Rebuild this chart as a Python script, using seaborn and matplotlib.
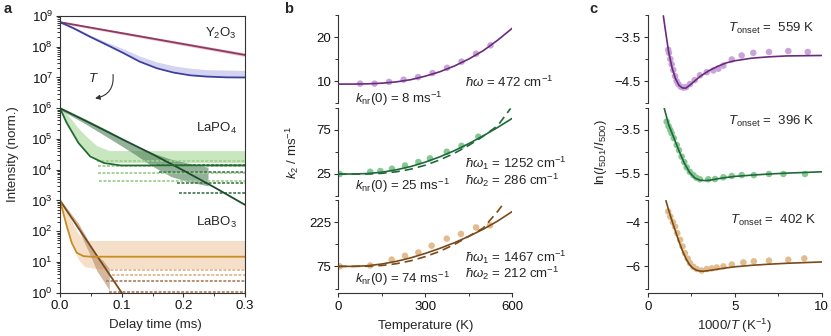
import numpy as np
import pandas as pd
import matplotlib
matplotlib.use("Agg")
import matplotlib.pyplot as plt
import seaborn as sns
from matplotlib.ticker import FixedLocator, LogLocator, NullFormatter, FuncFormatter

# ---------------- panel a: luminescence decays ----------------
# fitted decay curves (delay time in ms, normalised intensity)
y2o3_slow_t = [0.0, 0.3]
y2o3_slow_I = [6.3e8, 5.4e7]
y2o3_fast_t = [0.0, 0.022, 0.049, 0.076, 0.103, 0.129, 0.157, 0.184, 0.211, 0.238, 0.27, 0.3]
y2o3_fast_I = [6.3e8, 4.0e8, 2.1e8, 1.15e8, 6.2e7, 3.3e7, 2.0e7, 1.45e7, 1.18e7, 1.07e7, 1.01e7, 1.0e7]
lapo4_slow_t = [0.0, 0.05, 0.1, 0.15, 0.2, 0.25, 0.3]
lapo4_slow_I = [1.0e6, 3.2e5, 1.0e5, 3.2e4, 9.5e3, 2.7e3, 7.2e2]
lapo4_fast_t = [0.0, 0.011, 0.03, 0.049, 0.071, 0.098, 0.3]
lapo4_fast_I = [1.0e6, 3.3e5, 7.4e4, 2.7e4, 1.66e4, 1.38e4, 1.38e4]
labo3_slow_t = [0.0, 0.1]
labo3_slow_I = [1.0e3, 1.0]
labo3_fast_t = [0.0, 0.011, 0.019, 0.027, 0.038, 0.05, 0.3]
labo3_fast_I = [1.0e3, 1.45e2, 42.0, 20.0, 15.5, 14.8, 14.8]

# spread of the measured counts around each decay (lower / upper envelope)
y2o3_slow_band_t = [0.0, 0.3]
y2o3_slow_band_lo = [5.8e8, 4.8e7]
y2o3_slow_band_hi = [6.8e8, 6.3e7]
y2o3_fast_band_t = y2o3_fast_t
y2o3_fast_band_lo = [6.0e8, 3.8e8, 2.0e8, 1.15e8, 6.5e7, 3.6e7, 2.2e7, 1.6e7, 1.3e7, 1.15e7, 1.08e7, 1.05e7]
y2o3_fast_band_hi = [6.8e8, 4.4e8, 2.4e8, 1.4e8, 8.5e7, 5.0e7, 3.2e7, 2.4e7, 2.0e7, 1.8e7, 1.75e7, 1.7e7]
lapo4_slow_band_t = [0.0, 0.04, 0.08, 0.12, 0.15, 0.18, 0.21, 0.24]
lapo4_slow_band_lo = [9.0e5, 3.2e5, 1.05e5, 3.3e4, 1.3e4, 6.0e3, 4.0e3, 3.0e3]
lapo4_slow_band_hi = [1.1e6, 4.6e5, 1.8e5, 6.5e4, 3.5e4, 2.2e4, 1.6e4, 1.2e4]
lapo4_fast_band_t = [0.0, 0.01, 0.02, 0.03, 0.045, 0.06, 0.08, 0.3]
lapo4_fast_band_lo = [9.5e5, 3.5e5, 1.5e5, 7.0e4, 3.5e4, 2.2e4, 1.7e4, 1.7e4]
lapo4_fast_band_hi = [1.05e6, 7.0e5, 4.0e5, 2.2e5, 1.1e5, 6.0e4, 4.2e4, 4.2e4]
labo3_slow_band_t = [0.0, 0.03, 0.05, 0.06, 0.07, 0.08]
labo3_slow_band_lo = [9.0e2, 1.1e2, 15.0, 5.0, 2.5, 1.2]
labo3_slow_band_hi = [1.1e3, 1.8e2, 35.0, 16.0, 11.0, 6.0]
labo3_fast_band_t = [0.0, 0.01, 0.02, 0.03, 0.04, 0.06, 0.3]
labo3_fast_band_lo = [9.0e2, 1.3e2, 35.0, 12.0, 7.0, 6.0, 6.0]
labo3_fast_band_hi = [1.0e3, 5.0e2, 2.0e2, 80.0, 50.0, 50.0, 50.0]

# discrete count levels in the tails (level, first delay time)
lapo4_fast_levels = [1.86e4, 1.29e4, 7.8e3, 4.2e3]
lapo4_fast_level_start = [0.06, 0.061, 0.062, 0.064]
lapo4_slow_levels = [1.45e4, 8.7e3, 3.7e3, 1.75e3]
lapo4_slow_level_start = [0.157, 0.16, 0.19, 0.193]
labo3_fast_levels = [5.6, 3.9]
labo3_fast_level_start = [0.06, 0.07]
labo3_slow_levels = [2.35, 1.05]
labo3_slow_level_start = [0.075, 0.08]

# ---------------- panel b: k2 versus temperature ----------------
b_y_T = [75, 125, 175, 225, 275, 325, 375, 425, 475, 525]
b_y_k = [9.4, 9.4, 9.8, 10.3, 10.9, 11.8, 13.0, 14.4, 16.2, 18.1]
b_y_fitT = [0, 50, 100, 150, 200, 250, 300, 350, 400, 450, 500, 550, 600]
b_y_fit = [9.3, 9.3, 9.35, 9.5, 9.8, 10.3, 11.1, 12.1, 13.4, 15.0, 16.9, 19.3, 22.0]

b_p_T = [5, 110, 145, 185, 230, 276, 316, 374, 425, 483]
b_p_k = [25.0, 27.6, 28.4, 31.0, 34.6, 38.6, 42.8, 50.3, 57.0, 67.4]
b_p_fitT = [0, 50, 100, 150, 200, 250, 300, 350, 400, 450, 500, 550, 600]
b_p_fit = [25.0, 25.0, 25.5, 27.0, 29.8, 33.5, 38.5, 44.5, 51.5, 59.5, 68.5, 78.0, 88.3]
b_p_fit2T = [0, 50, 100, 150, 200, 250, 300, 350, 400, 450, 500, 550, 594]
b_p_fit2 = [25.0, 25.0, 25.0, 25.8, 27.5, 30.5, 35.0, 41.0, 48.5, 57.5, 68.0, 80.0, 99.5]

b_b_T = [5, 110, 184, 230, 276, 322, 374, 423, 475, 523]
b_b_k = [75, 78, 98, 111, 122, 145, 169, 185, 207, 214]
b_b_fitT = [0, 50, 100, 150, 200, 250, 300, 350, 400, 450, 500, 550, 600]
b_b_fit = [75, 75, 77, 83, 92, 104, 119, 136, 155, 177, 201, 229, 261]
b_b_fit2T = [0, 50, 100, 150, 200, 250, 300, 350, 400, 450, 500, 550, 569]
b_b_fit2 = [75, 75, 75.5, 78, 84, 94, 108, 126, 149, 177, 205, 262, 287]

# ---------------- panel c: ln(I5D1/I5D0) versus 1000/T ----------------
c_y_x = [1.18, 1.22, 1.3, 1.38, 1.47, 1.57, 1.66, 1.76, 1.9, 2.05, 2.2, 2.43, 2.7, 3.0, 3.39, 3.77, 4.06,
         4.35, 4.83, 5.4, 6.07, 6.97, 8.08, 9.2]
c_y_v = [-3.79, -3.86, -4.0, -4.12, -4.25, -4.39, -4.5, -4.57, -4.63, -4.65, -4.64, -4.57, -4.48, -4.37,
         -4.30, -4.26, -4.22, -4.15, -4.01, -3.92, -3.86, -3.84, -3.82, -3.84]
c_y_fx = [0.9, 1.0, 1.2, 1.4, 1.6, 1.8, 2.0, 2.2, 2.4, 2.7, 3.0, 3.5, 4.0, 4.5, 5.0, 6.0, 7.0, 8.0, 9.0, 10.0]
c_y_f = [-3.02, -3.3, -3.83, -4.2, -4.45, -4.6, -4.66, -4.66, -4.6, -4.5, -4.4, -4.27, -4.17, -4.09,
         -4.04, -3.98, -3.95, -3.93, -3.925, -3.92]

c_p_x = [1.09, 1.2, 1.3, 1.38, 1.5, 1.67, 1.8, 1.95, 2.1, 2.24, 2.42, 2.62, 2.8, 3.0, 3.48, 3.87, 4.35,
         4.83, 5.4, 6.1, 6.97, 7.8, 9.04]
c_p_v = [-3.12, -3.33, -3.5, -3.65, -3.87, -4.18, -4.42, -4.71, -4.96, -5.2, -5.4, -5.55, -5.67, -5.74,
         -5.74, -5.73, -5.65, -5.59, -5.55, -5.55, -5.5, -5.5, -5.5]
c_p_fx = [0.95, 1.2, 1.5, 1.8, 2.1, 2.4, 2.7, 3.0, 3.3, 3.6, 4.0, 4.5, 5.0, 6.0, 7.0, 8.0, 9.0, 10.0]
c_p_f = [-2.51, -3.25, -3.85, -4.45, -5.0, -5.42, -5.68, -5.78, -5.8, -5.78, -5.72, -5.66, -5.61, -5.55,
         -5.5, -5.46, -5.43, -5.40]

c_b_x = [1.18, 1.3, 1.45, 1.57, 1.7, 1.86, 2.0, 2.14, 2.3, 2.43, 2.62, 2.82, 3.1, 3.39, 3.68, 3.97, 4.35,
         4.83, 5.5, 6.1, 6.97, 8.08, 9.0]
c_b_v = [-3.52, -3.75, -4.0, -4.2, -4.5, -4.8, -5.1, -5.4, -5.65, -5.85, -6.02, -6.12, -6.19, -6.12,
         -6.09, -6.05, -6.0, -5.92, -5.82, -5.77, -5.74, -5.70, -5.64]
c_b_fx = [1.05, 1.2, 1.4, 1.6, 1.8, 2.0, 2.2, 2.4, 2.6, 2.8, 3.0, 3.2, 3.5, 4.0, 4.5, 5.0, 6.0, 7.0, 8.0,
          9.0, 10.0]
c_b_f = [-3.03, -3.45, -3.95, -4.42, -4.88, -5.3, -5.65, -5.92, -6.08, -6.17, -6.21, -6.22, -6.19, -6.13,
         -6.07, -6.02, -5.95, -5.9, -5.86, -5.83, -5.80]

# ---------------- styling ----------------
sns.set_theme(style="ticks")
plt.rcParams["font.family"] = ["Liberation Sans", "DejaVu Sans"]
plt.rcParams.update({
    "mathtext.fontset": "custom",
    "mathtext.rm": "Liberation Sans",
    "mathtext.it": "Liberation Sans:italic",
    "mathtext.bf": "Liberation Sans:bold",
    "font.size": 9.5,
    "axes.labelsize": 9.5,
    "xtick.labelsize": 9.5,
    "ytick.labelsize": 9.5,
    "axes.edgecolor": "#333333",
    "axes.linewidth": 0.8,
    "xtick.color": "#333333",
    "ytick.color": "#333333",
    "xtick.labelcolor": "#111111",
    "ytick.labelcolor": "#111111",
    "xtick.major.size": 3.0,
    "ytick.major.size": 3.0,
    "xtick.minor.size": 2.0,
    "ytick.minor.size": 2.0,
    "xtick.major.width": 0.8,
    "ytick.major.width": 0.8,
    "xtick.minor.width": 0.7,
    "ytick.minor.width": 0.7,
    "xtick.major.pad": 2.5,
    "ytick.major.pad": 2.0,
})

PURPLE_L, PURPLE_P = "#6b2a7d", "#c9a3d9"
GREEN_L, GREEN_P = "#1f6a3a", "#86c893"
BROWN_L, BROWN_P = "#7a4a17", "#e2bc8e"

W, H = 831, 336
fig = plt.figure(figsize=(W / 100, H / 100), dpi=100)


def box(x0, y0, x1, y1):
    return [x0 / W, 1 - y1 / H, (x1 - x0) / W, (y1 - y0) / H]


# ---------------- panel a ----------------
axa = fig.add_axes(box(60, 16, 245, 292.7))
axa.set_yscale("log")
bands = [
    (y2o3_slow_band_t, y2o3_slow_band_lo, y2o3_slow_band_hi, "#e6aacb", 0.7),
    (y2o3_fast_band_t, y2o3_fast_band_lo, y2o3_fast_band_hi, "#c3c1ec", 0.7),
    (lapo4_fast_band_t, lapo4_fast_band_lo, lapo4_fast_band_hi, "#b3dea5", 0.7),
    (lapo4_slow_band_t, lapo4_slow_band_lo, lapo4_slow_band_hi, "#4d7d57", 0.6),
    (labo3_fast_band_t, labo3_fast_band_lo, labo3_fast_band_hi, "#f3d2b2", 0.7),
    (labo3_slow_band_t, labo3_slow_band_lo, labo3_slow_band_hi, "#b48a66", 0.6),
]
for t, lo, hi, col, alpha in bands:
    axa.fill_between(t, lo, hi, color=col, alpha=alpha, lw=0)

streak = (0, (1.6, 0.9))
axa.hlines(lapo4_fast_levels, lapo4_fast_level_start, 0.3, colors="#9fd08f", lw=1.3, linestyles=streak)
axa.hlines(lapo4_slow_levels, lapo4_slow_level_start, 0.3, colors="#4f7f5a", lw=1.3, linestyles=streak)
axa.hlines(labo3_fast_levels, labo3_fast_level_start, 0.3, colors="#e0b890", lw=1.3, linestyles=streak)
axa.hlines(labo3_slow_levels, labo3_slow_level_start, 0.3, colors="#b08866", lw=1.3, linestyles=streak)

fits_a = [
    (y2o3_slow_t, y2o3_slow_I, "#8e3a5c"),
    (y2o3_fast_t, y2o3_fast_I, "#3c3f9c"),
    (lapo4_slow_t, lapo4_slow_I, "#1b4d2c"),
    (lapo4_fast_t, lapo4_fast_I, "#236b33"),
    (labo3_slow_t, labo3_slow_I, "#7b4a1a"),
    (labo3_fast_t, labo3_fast_I, "#c98e22"),
]
for t, I, col in fits_a:
    sns.lineplot(x=t, y=I, ax=axa, color=col, lw=1.3, sort=False, errorbar=None)

axa.set_xlim(0, 0.3)
axa.set_ylim(1, 1e9)
axa.xaxis.set_major_locator(FixedLocator([0.0, 0.1, 0.2, 0.3]))
axa.xaxis.set_minor_locator(FixedLocator([0.05, 0.15, 0.25]))
axa.xaxis.set_major_formatter(FuncFormatter(lambda v, p: f"{v:.1f}"))
axa.yaxis.set_major_locator(LogLocator(base=10, numticks=20))
axa.yaxis.set_minor_locator(LogLocator(base=10, subs=np.arange(2, 10), numticks=20))
axa.yaxis.set_minor_formatter(NullFormatter())
axa.yaxis.set_major_formatter(FuncFormatter(lambda v, p: rf"$10^{{{int(round(np.log10(v)))}}}$"))
axa.set_xlabel("")
axa.set_ylabel("")
for s in axa.spines.values():
    s.set_visible(True)

for label, ypx in [(r"Y$_2$O$_3$", 33), (r"LaPO$_4$", 128), (r"LaBO$_3$", 222)]:
    axa.annotate(label, xy=(237 / W, 1 - ypx / H), xycoords="figure fraction",
                 ha="right", va="center", fontsize=9.5)

# temperature arrow
axa.annotate("", xy=(0.0568, 2.1e6), xytext=(0.086, 1.25e7), xycoords="data",
             arrowprops=dict(arrowstyle="-|>", color="#333333", lw=0.8, mutation_scale=7,
                             connectionstyle="arc3,rad=-0.45", shrinkA=0, shrinkB=0))
axa.text(0.0535, 9.6e6, "$T$", ha="center", va="center", fontsize=9.5)

# ---------------- panel b ----------------
rows = [(15, 103), (108, 196), (200, 288.5)]
b_specs = [
    (b_y_T, b_y_k, b_y_fitT, b_y_fit, None, None, PURPLE_L, PURPLE_P, (5, 25), [10, 20], [5, 15, 25]),
    (b_p_T, b_p_k, b_p_fitT, b_p_fit, b_p_fit2T, b_p_fit2, GREEN_L, GREEN_P, (0, 100), [25, 75], [0, 50, 100]),
    (b_b_T, b_b_k, b_b_fitT, b_b_fit, b_b_fit2T, b_b_fit2, BROWN_L, BROWN_P, (0, 300), [75, 225], [0, 150, 300]),
]
axes_b = []
for (y0, y1), spec in zip(rows, b_specs):
    T, k, fT, fk, f2T, f2k, lc, pc, ylim, major, minor = spec
    ax = fig.add_axes(box(338.3, y0, 512.3, y1))
    sns.scatterplot(x=T, y=k, ax=ax, color=pc, s=22, edgecolor="none", zorder=2)
    sns.lineplot(x=fT, y=fk, ax=ax, color=lc, lw=1.2, errorbar=None, zorder=3)
    if f2T is not None:
        ax.plot(f2T, f2k, color=lc, lw=1.2, ls=(0, (5, 3)), zorder=3)
    ax.set_xlim(0, 600)
    ax.set_ylim(*ylim)
    ax.yaxis.set_major_locator(FixedLocator(major))
    ax.yaxis.set_minor_locator(FixedLocator(minor))
    ax.set_xlabel("")
    ax.set_ylabel("")
    sns.despine(ax=ax)
    axes_b.append(ax)
for ax in axes_b[:2]:
    ax.spines["bottom"].set_visible(False)
    ax.tick_params(axis="x", which="both", bottom=False, labelbottom=False)
axb = axes_b[2]
axb.spines["bottom"].set_position(("outward", 3.3))
axb.xaxis.set_major_locator(FixedLocator([0, 300, 600]))
axb.xaxis.set_minor_locator(FixedLocator([150, 450]))

# ---------------- panel c ----------------
c_specs = [
    (c_y_x, c_y_v, c_y_fx, c_y_f, PURPLE_L, PURPLE_P, (-5, -3), [-4.5, -3.5], [-5, -4, -3]),
    (c_p_x, c_p_v, c_p_fx, c_p_f, GREEN_L, GREEN_P, (-6.5, -2.5), [-5.5, -3.5], [-6.5, -4.5, -2.5]),
    (c_b_x, c_b_v, c_b_fx, c_b_f, BROWN_L, BROWN_P, (-7, -3), [-6, -4], [-7, -5, -3]),
]
axes_c = []
for (y0, y1), spec in zip(rows, c_specs):
    x, v, fx, fv, lc, pc, ylim, major, minor = spec
    ax = fig.add_axes(box(647.7, y0, 821.7, y1))
    sns.scatterplot(x=x, y=v, ax=ax, color=pc, s=22, edgecolor="none", zorder=2)
    sns.lineplot(x=fx, y=fv, ax=ax, color=lc, lw=1.2, errorbar=None, zorder=3)
    ax.set_xlim(0, 10)
    ax.set_ylim(*ylim)
    ax.yaxis.set_major_locator(FixedLocator(major))
    ax.yaxis.set_minor_locator(FixedLocator(minor))
    ax.yaxis.set_major_formatter(FuncFormatter(lambda val, p: f"{val:g}".replace("-", "\u2212")))
    ax.set_xlabel("")
    ax.set_ylabel("")
    sns.despine(ax=ax)
    axes_c.append(ax)
for ax in axes_c[:2]:
    ax.spines["bottom"].set_visible(False)
    ax.tick_params(axis="x", which="both", bottom=False, labelbottom=False)
axc = axes_c[2]
axc.spines["bottom"].set_position(("outward", 3.3))
axc.xaxis.set_major_locator(FixedLocator([0, 5, 10]))
axc.xaxis.set_minor_locator(FixedLocator([2.5, 7.5]))


# ---------------- annotations ----------------
def ftext(xpx, ypx, s, **kw):
    kw.setdefault("ha", "left")
    kw.setdefault("va", "center")
    kw.setdefault("fontsize", 9.5)
    fig.text(xpx / W, 1 - ypx / H, s, **kw)


ftext(465, 82.3, r"$\hbar\omega$ = 472 cm$^{-1}$")
ftext(355, 99, r"$k_{\rm nr}$(0) = 8 ms$^{-1}$")
ftext(465, 163.3, r"$\hbar\omega_1$ = 1252 cm$^{-1}$")
ftext(465, 180, r"$\hbar\omega_2$ = 286 cm$^{-1}$")
ftext(355, 186, r"$k_{\rm nr}$(0) = 25 ms$^{-1}$")
ftext(465, 257.7, r"$\hbar\omega_1$ = 1467 cm$^{-1}$")
ftext(465, 273.5, r"$\hbar\omega_2$ = 212 cm$^{-1}$")
ftext(355, 278.5, r"$k_{\rm nr}$(0) = 74 ms$^{-1}$")

ftext(728, 28.3, r"$T_{\rm onset}$ =  559 K")
ftext(728, 121.7, r"$T_{\rm onset}$ =  396 K")
ftext(730, 220, r"$T_{\rm onset}$ =  402 K")

# panel letters
ftext(4, 9, "a", fontweight="bold", fontsize=10.5)
ftext(284, 9, "b", fontweight="bold", fontsize=10.5)
ftext(589, 9, "c", fontweight="bold", fontsize=10.5)

# axis titles
ftext(13, 154, "Intensity (norm.)", rotation=90, ha="center")
ftext(292, 152, r"$k_2$ / ms$^{-1}$", rotation=90, ha="center")
ftext(601, 152, r"ln($I_{\rm 5D1}$/$I_{\rm 5D0}$)", rotation=90, ha="center")
ftext(155, 325, "Delay time (ms)", ha="center")
ftext(425.3, 325.5, "Temperature (K)", ha="center")
ftext(734.7, 325.5, r"1000/$T$ (K$^{-1}$)", ha="center")

fig.savefig("out.png", dpi=100)
